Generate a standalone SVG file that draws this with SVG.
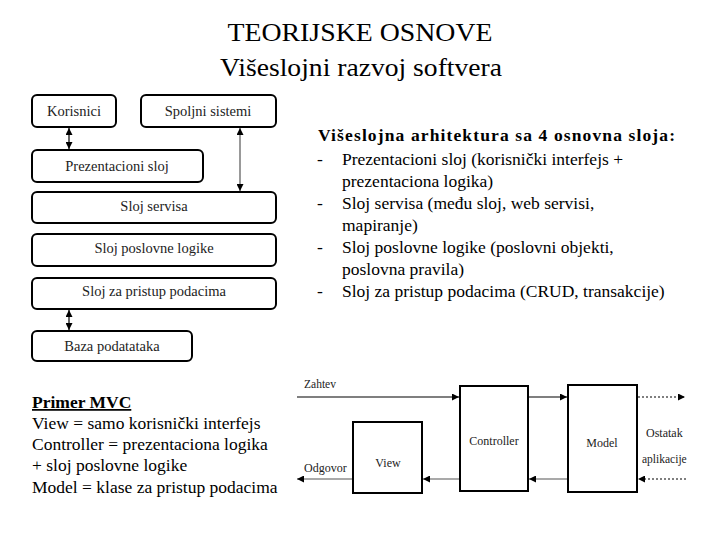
<svg xmlns="http://www.w3.org/2000/svg" width="720" height="540" viewBox="0 0 720 540">
<defs>
<marker id="ah" viewBox="0 0 10 10" refX="10" refY="5" markerWidth="7" markerHeight="7" orient="auto-start-reverse" markerUnits="userSpaceOnUse">
<path d="M0,0 L10,5 L0,10 z" fill="#000"/>
</marker>
</defs>
<rect width="720" height="540" fill="#fff"/>
<text font-family="Liberation Serif" font-size="26" text-anchor="middle" x="360" y="41" textLength="265" lengthAdjust="spacingAndGlyphs">TEORIJSKE OSNOVE</text>
<text font-family="Liberation Serif" font-size="26" text-anchor="middle" x="361" y="76" textLength="282" lengthAdjust="spacingAndGlyphs">Višeslojni razvoj softvera</text>

<g fill="#fff" stroke="#000" stroke-width="2">
<g id="korisnici"><rect x="32" y="95" width="84" height="32" rx="5"/><text font-family="Liberation Serif" font-size="14.5" fill="#222" stroke="none" text-anchor="middle" x="74" y="116">Korisnici</text></g>
<g id="spoljni"><rect x="141" y="95" width="135" height="32" rx="5"/><text font-family="Liberation Serif" font-size="14.5" fill="#222" stroke="none" text-anchor="middle" x="208" y="116">Spoljni sistemi</text></g>
<g id="prezentacioni"><rect x="32" y="150" width="171" height="32" rx="5"/><text font-family="Liberation Serif" font-size="14.5" fill="#222" stroke="none" text-anchor="middle" x="117" y="171">Prezentacioni sloj</text></g>
<g id="servisa"><rect x="32" y="192" width="244" height="31" rx="5"/><text font-family="Liberation Serif" font-size="14.5" fill="#222" stroke="none" text-anchor="middle" x="154" y="211">Sloj servisa</text></g>
<g id="poslovne"><rect x="32" y="234" width="244" height="32" rx="5"/><text font-family="Liberation Serif" font-size="14.5" fill="#222" stroke="none" text-anchor="middle" x="154" y="253">Sloj poslovne logike</text></g>
<g id="pristup"><rect x="32" y="278" width="244" height="31" rx="5"/><text font-family="Liberation Serif" font-size="14.5" fill="#222" stroke="none" text-anchor="middle" x="154" y="296">Sloj za pristup podacima</text></g>
<g id="baza"><rect x="32" y="331" width="160" height="30" rx="5"/><text font-family="Liberation Serif" font-size="14.5" fill="#222" stroke="none" text-anchor="middle" x="112" y="351">Baza podatataka</text></g>

<g id="mvc-controller"><rect x="460" y="386" width="68" height="105"/><text font-family="Liberation Serif" font-size="12" fill="#222" stroke="none" text-anchor="middle" x="494" y="445">Controller</text></g>
<g id="mvc-model"><rect x="568" y="385" width="69" height="107"/><text font-family="Liberation Serif" font-size="12" fill="#222" stroke="none" text-anchor="middle" x="602" y="447">Model</text></g>
<g id="mvc-view"><rect x="353" y="422" width="69" height="71"/><text font-family="Liberation Serif" font-size="12" fill="#222" stroke="none" text-anchor="middle" x="388" y="467">View</text></g>
</g>

<g id="connectors" fill="none" stroke-width="1.2">
<line stroke="#000" x1="69" y1="128" x2="69" y2="149" marker-start="url(#ah)" marker-end="url(#ah)"/>
<line stroke="#555" x1="240" y1="128" x2="240" y2="191" marker-start="url(#ah)" marker-end="url(#ah)"/>
<line stroke="#000" x1="69" y1="310" x2="69" y2="330" marker-start="url(#ah)" marker-end="url(#ah)"/>
<line stroke="#000" x1="297" y1="397" x2="459" y2="397" marker-end="url(#ah)"/>
<line stroke="#000" x1="529" y1="397" x2="567" y2="397" marker-end="url(#ah)"/>
<line stroke="#000" stroke-dasharray="2,2" x1="638" y1="397" x2="685" y2="397" marker-end="url(#ah)"/>
<line stroke="#000" stroke-dasharray="2,2" x1="686" y1="479" x2="638" y2="479" marker-end="url(#ah)"/>
<line stroke="#555" x1="567" y1="479" x2="529" y2="479" marker-end="url(#ah)"/>
<line stroke="#555" x1="459" y1="479" x2="423" y2="479" marker-end="url(#ah)"/>
<line stroke="#555" x1="352" y1="479" x2="297" y2="479" marker-end="url(#ah)"/>
</g>
<text font-family="Liberation Serif" font-size="11.5" fill="#222" x="304" y="388">Zahtev</text>
<text font-family="Liberation Serif" font-size="12" fill="#222" x="304" y="472">Odgovor</text>
<text font-family="Liberation Serif" font-size="12" fill="#222" x="646" y="437">Ostatak</text>
<text font-family="Liberation Serif" font-size="11.5" fill="#222" x="642" y="463">aplikacije</text>

<g id="opis">
<text font-family="Liberation Serif" font-size="17.5" x="318" y="141" font-weight="bold" textLength="357" lengthAdjust="spacing">Višeslojna arhitektura sa 4 osnovna sloja:</text>
<text font-family="Liberation Serif" font-size="17.5" x="317" y="165">-</text><text font-family="Liberation Serif" font-size="17.5" x="342" y="165">Prezentacioni sloj (korisnički interfejs +</text>
<text font-family="Liberation Serif" font-size="17.5" x="342" y="187">prezentaciona logika)</text>
<text font-family="Liberation Serif" font-size="17.5" x="317" y="209">-</text><text font-family="Liberation Serif" font-size="17.5" x="342" y="209">Sloj servisa (među sloj, web servisi,</text>
<text font-family="Liberation Serif" font-size="17.5" x="342" y="231">mapiranje)</text>
<text font-family="Liberation Serif" font-size="17.5" x="317" y="253">-</text><text font-family="Liberation Serif" font-size="17.5" x="342" y="253">Sloj poslovne logike (poslovni objekti,</text>
<text font-family="Liberation Serif" font-size="17.5" x="342" y="275">poslovna pravila)</text>
<text font-family="Liberation Serif" font-size="17.5" x="317" y="297">-</text><text font-family="Liberation Serif" font-size="17.5" x="342" y="297">Sloj za pristup podacima (CRUD, transakcije)</text>
</g>

<g id="primer">
<text font-family="Liberation Serif" font-size="17.5" x="32" y="408" font-weight="bold" text-decoration="underline">Primer MVC</text>
<text font-family="Liberation Serif" font-size="17.5" x="32" y="429">View = samo korisnički interfejs</text>
<text font-family="Liberation Serif" font-size="17.5" x="32" y="450">Controller = prezentaciona logika</text>
<text font-family="Liberation Serif" font-size="17.5" x="32" y="471">+ sloj poslovne logike</text>
<text font-family="Liberation Serif" font-size="17.5" x="32" y="493">Model = klase za pristup podacima</text>
</g>
</svg>
